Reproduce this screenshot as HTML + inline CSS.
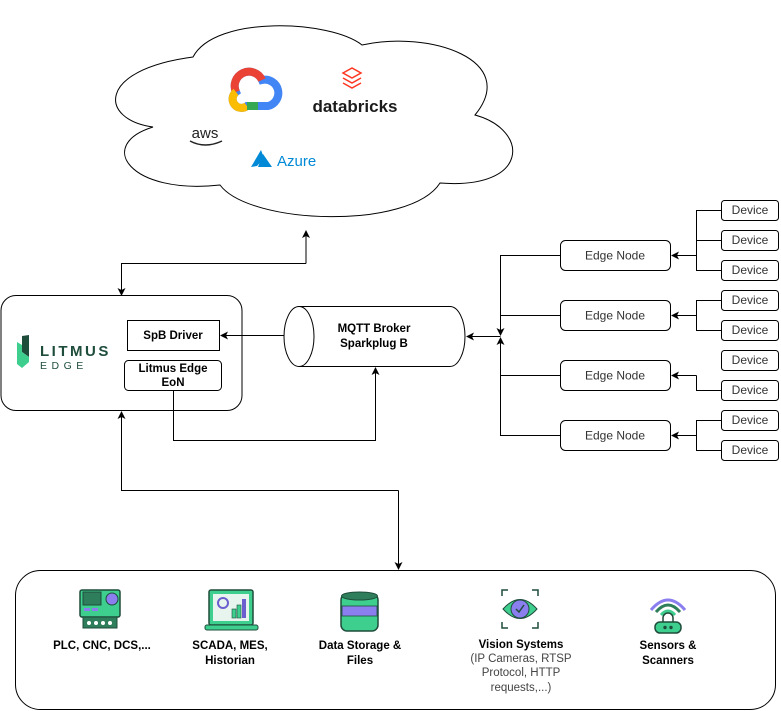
<!DOCTYPE html>
<html><head><meta charset="utf-8"><style>
body{margin:0;background:#fff;}
svg{display:block;font-family:"Liberation Sans",sans-serif;}
</style></head><body>
<svg width="781" height="711" viewBox="0 0 781 711" xmlns="http://www.w3.org/2000/svg">
<defs>
<marker id="a" markerWidth="8" markerHeight="8" refX="7" refY="4" orient="auto" markerUnits="userSpaceOnUse"><path d="M0,0 L8,4 L0,8 L2,4 Z" fill="#000"/></marker>
</defs>
<g fill="none" stroke="#000" stroke-width="1">
<path d="M153,127 C100,120 95,70 193,57 C215,15 330,20 362,45 C430,30 520,60 475,115 C530,130 530,190 440,183 C410,230 250,225 220,185 C130,195 95,145 153,127 Z" fill="#fff"/>
<rect x="1" y="295.5" width="241" height="115" rx="15" fill="#fff"/>
<rect x="127.5" y="320.5" width="92" height="30"/>
<rect x="124.5" y="360.5" width="97" height="30" rx="4"/>
<path d="M299,306.5 L450,306.5 A15,30 0 0 1 450,366.5 L299,366.5 A15,30 0 0 1 299,306.5 Z" fill="#fff"/>
<path d="M299,306.5 A15,30 0 0 1 299,366.5"/>
<path d="M306,263.5 L306,231" marker-end="url(#a)"/>
<path d="M306,263.5 L121.5,263.5 L121.5,295" marker-end="url(#a)"/>
<path d="M284,335.5 L221,335.5" marker-end="url(#a)"/>
<path d="M173.5,391 L173.5,440.5 L375.5,440.5 L375.5,368" marker-end="url(#a)"/>
<path d="M398.5,490.5 L121.5,490.5 L121.5,412" marker-end="url(#a)"/>
<path d="M398.5,490.5 L398.5,569" marker-end="url(#a)"/>
<path d="M500.5,336.5 L467,336.5" marker-end="url(#a)"/>
<path d="M560,255.5 L500.5,255.5 L500.5,335" marker-end="url(#a)"/>
<path d="M560,435.5 L500.5,435.5 L500.5,338" marker-end="url(#a)"/>
<path d="M560,315.5 L500.5,315.5 M560,375.5 L500.5,375.5"/>
<rect x="560.5" y="240.5" width="110" height="30" rx="5" fill="#fff"/>
<rect x="560.5" y="300.5" width="110" height="30" rx="5" fill="#fff"/>
<rect x="560.5" y="360.5" width="110" height="30" rx="5" fill="#fff"/>
<rect x="560.5" y="420.5" width="110" height="30" rx="5" fill="#fff"/>
<path d="M696.5,255.5 L672,255.5" marker-end="url(#a)"/>
<path d="M721,210.5 L696.5,210.5 L696.5,270.5 L721,270.5 M696.5,240.5 L721,240.5"/>
<path d="M696.5,315.5 L672,315.5" marker-end="url(#a)"/>
<path d="M721,300.5 L696.5,300.5 L696.5,330.5 L721,330.5"/>
<path d="M696.5,375.5 L672,375.5" marker-end="url(#a)"/>
<path d="M696.5,375.5 L696.5,390.5 L721,390.5"/>
<path d="M696.5,435.5 L672,435.5" marker-end="url(#a)"/>
<path d="M721,420.5 L696.5,420.5 L696.5,450.5 L721,450.5"/>
<g fill="#fff">
<rect x="721.5" y="200.5" width="57" height="20" rx="3"/>
<rect x="721.5" y="230.5" width="57" height="20" rx="3"/>
<rect x="721.5" y="260.5" width="57" height="20" rx="3"/>
<rect x="721.5" y="290.5" width="57" height="20" rx="3"/>
<rect x="721.5" y="320.5" width="57" height="20" rx="3"/>
<rect x="721.5" y="350.5" width="57" height="20" rx="3"/>
<rect x="721.5" y="380.5" width="57" height="20" rx="3"/>
<rect x="721.5" y="410.5" width="57" height="20" rx="3"/>
<rect x="721.5" y="440.5" width="57" height="20" rx="3"/>
</g>
<rect x="15.5" y="570.5" width="760" height="139" rx="25"/>
</g>
<g font-size="12" fill="#333" text-anchor="middle">
<text x="615" y="259.5">Edge Node</text><text x="615" y="319.5">Edge Node</text>
<text x="615" y="379.5">Edge Node</text><text x="615" y="439.5">Edge Node</text>
<text x="750" y="214">Device</text><text x="750" y="244">Device</text><text x="750" y="274">Device</text>
<text x="750" y="304">Device</text><text x="750" y="334">Device</text><text x="750" y="364">Device</text>
<text x="750" y="394">Device</text><text x="750" y="424">Device</text><text x="750" y="454">Device</text>
</g>
<g font-size="11.5" fill="#000" text-anchor="middle" font-weight="bold">
<text x="173" y="339">SpB Driver</text>
<text x="173" y="372">Litmus Edge</text><text x="173" y="386">EoN</text>
<text x="374" y="332">MQTT Broker</text><text x="374" y="347">Sparkplug B</text>
<text x="102" y="649">PLC, CNC, DCS,...</text>
<text x="230" y="649">SCADA, MES,</text><text x="230" y="664">Historian</text>
<text x="360" y="649">Data Storage &amp;</text><text x="360" y="664">Files</text>
<text x="521" y="648">Vision Systems</text>
<text x="668" y="649">Sensors &amp;</text><text x="668" y="664">Scanners</text>
</g>
<g font-size="11.5" fill="#444" text-anchor="middle">
<text x="521" y="662">(IP Cameras, RTSP</text><text x="521" y="676">Protocol, HTTP</text><text x="521" y="691">requests,...)</text>
</g>
<path d="M22,336 L29,335 L29,357 L22,352 Z" fill="#1f4d3c"/>
<path d="M17,342 L22,345 L22,352 L29,357 L29,362 L22,368 L17,364 Z" fill="#3ecf8e"/>
<text x="40" y="356" font-size="15" fill="#1f4d3c" letter-spacing="2.5" font-weight="bold">LITMUS</text>
<text x="40" y="369" font-size="10.5" fill="#1f4d3c" letter-spacing="4.5">EDGE</text>
<path d="M236,92 A14,14 0 0 1 262,80 A12,12 0 0 1 268,106 L247,106 A8,8 0 0 1 236,92 Z" fill="none" stroke="#4285f4" stroke-width="8"/>
<path d="M236,92 A14,14 0 0 1 262,80" fill="none" stroke="#ea4335" stroke-width="8"/>
<path d="M247,106 A8,8 0 0 1 236,92" fill="none" stroke="#fbbc04" stroke-width="8"/>
<path d="M247,106 L258,106" stroke="#34a853" stroke-width="8"/>
<path d="M352,68 L343,73 L352,78 L361,73 Z M343,78 L352,83 L361,78 M343,83 L352,88 L361,83" fill="none" stroke="#ff3621" stroke-width="1.5"/>
<text x="355" y="112" font-size="17" fill="#1b1b1b" text-anchor="middle" font-weight="bold">databricks</text>
<text x="205" y="138" font-size="15" fill="#222" text-anchor="middle">aws</text>
<path d="M190,141 Q205,149 222,141" fill="none" stroke="#222" stroke-width="1.5"/>
<path d="M251,167 L261,150 L264,158 L257,166 Z M263,154 L272,167 L258,167 Z" fill="#0089d6"/>
<text x="277" y="166" font-size="15" fill="#0089d6">Azure</text>
<rect x="80" y="590" width="40" height="27" rx="2" fill="#3ecf8e" stroke="#1f4d3c" stroke-width="1.5"/>
<rect x="83" y="592" width="18" height="13" fill="#2e7d5b" stroke="#1f4d3c"/>
<circle cx="112" cy="599" r="6" fill="#8b7ff0" stroke="#1f4d3c"/>
<rect x="84" y="608" width="6" height="3" fill="#8b7ff0"/><rect x="92" y="608" width="6" height="3" fill="#8b7ff0"/>
<rect x="83" y="617" width="34" height="11" fill="#2e7d5b" stroke="#1f4d3c"/>
<g fill="#fff"><circle cx="89" cy="623" r="2"/><circle cx="96" cy="623" r="2"/><circle cx="103" cy="623" r="2"/><circle cx="110" cy="623" r="2"/></g>
<rect x="209" y="590" width="44" height="35" rx="2" fill="#3ecf8e" stroke="#1f4d3c" stroke-width="1.5"/>
<rect x="213" y="594" width="36" height="27" fill="#e8f5ee"/>
<circle cx="223" cy="603" r="5" fill="none" stroke="#6b5fd0" stroke-width="2"/>
<rect x="232" y="609" width="4" height="9" fill="#3ecf8e" stroke="#1f4d3c" stroke-width=".6"/>
<rect x="237" y="605" width="4" height="13" fill="#3ecf8e" stroke="#1f4d3c" stroke-width=".6"/>
<rect x="242" y="599" width="4" height="19" fill="#6b5fd0"/>
<rect x="205" y="625" width="53" height="5" rx="2" fill="#3ecf8e" stroke="#1f4d3c"/>
<rect x="341" y="594" width="37" height="37" rx="6" fill="#3ecf8e" stroke="#1f4d3c" stroke-width="1.5"/>
<ellipse cx="359.5" cy="596" rx="18" ry="4" fill="#2e7d5b" stroke="#1f4d3c"/>
<rect x="342" y="606" width="35" height="10" fill="#8b7ff0" stroke="#1f4d3c" stroke-width=".8"/>
<path d="M502,596 L502,590 L508,590 M532,590 L538,590 L538,596 M502,622 L502,628 L508,628 M532,628 L538,628 L538,622" fill="none" stroke="#1f4d3c" stroke-width="1.5"/>
<path d="M503,609 Q520,590 537,609 Q520,628 503,609 Z" fill="#3ecf8e" stroke="#1f4d3c"/>
<circle cx="520" cy="609" r="9" fill="#8b7ff0" stroke="#1f4d3c"/>
<path d="M516,609 L519,612 L524,605" fill="none" stroke="#1f4d3c" stroke-width="1.5"/>
<path d="M651,610 Q668,590 685,610" fill="none" stroke="#8b7ff0" stroke-width="3"/>
<path d="M656,612 Q668,598 680,612" fill="none" stroke="#2e7d5b" stroke-width="3"/>
<path d="M661,615 Q668,607 675,615" fill="none" stroke="#3ecf8e" stroke-width="3"/>
<rect x="655" y="622" width="26" height="11" rx="5" fill="#3ecf8e" stroke="#1f4d3c" stroke-width="1.5"/>
<path d="M663,622 L663,618 A5,5 0 0 1 673,618 L673,622" fill="none" stroke="#1f4d3c" stroke-width="1.5"/>
<circle cx="665" cy="627.5" r="1.7" fill="#1f4d3c"/><circle cx="671" cy="627.5" r="1.7" fill="#1f4d3c"/>
</svg>
</body></html>
